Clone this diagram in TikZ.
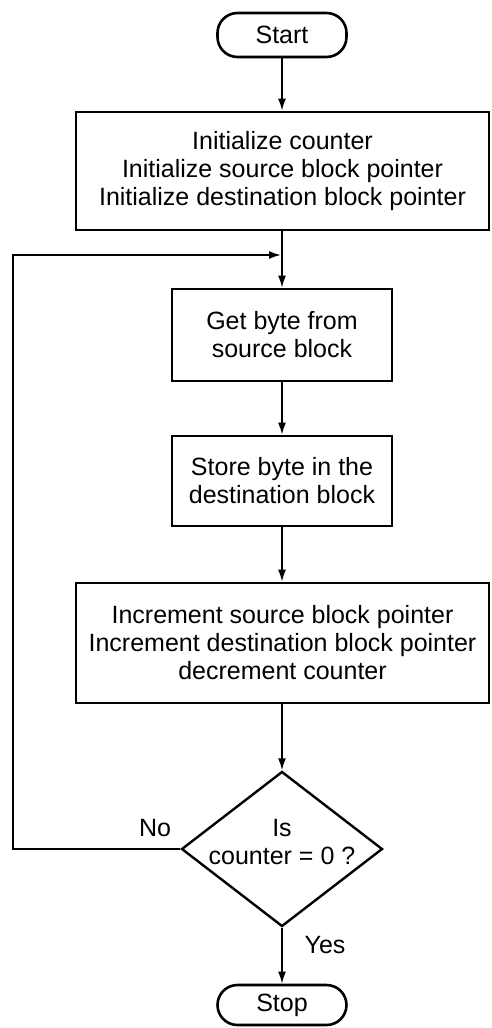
\documentclass[tikz,border=0pt]{standalone}
\usepackage{fontspec}
\setmainfont{Liberation Sans}
\usetikzlibrary{arrows.meta,shapes.geometric}
\tikzset{
  every node/.style={font=\fontsize{25}{28}\selectfont},
  procbox/.style={draw, line width=2.6pt, rectangle, align=center, inner sep=0pt},
  termbox/.style={draw, line width=2.6pt, rectangle, rounded corners=20pt, inner sep=0pt, minimum width=129pt},
  decbox/.style={draw, line width=2.4pt, diamond, inner sep=0pt, minimum width=201pt, minimum height=155pt},
  flow/.style={line width=1.8pt, -{Latex[length=12pt,width=8pt]}},
  plain/.style={line width=1.8pt},
  lbl/.style={inner sep=0pt}
}
\begin{document}
\begin{tikzpicture}[x=1pt,y=-1pt]
\useasboundingbox (0,0) rectangle (492,1028);
\fill[white] (0,0) rectangle (492,1028);
\node[termbox, minimum height=44pt] (start) at (282,35) {Start};
\node[procbox, minimum width=413pt, minimum height=118pt] (init) at (282.5,171)
  {Initialize counter\\Initialize source block pointer\\Initialize destination block pointer};
\node[procbox, minimum width=220pt, minimum height=92pt] (get) at (282,335)
  {Get byte from\\source block};
\node[procbox, minimum width=220pt, minimum height=90pt] (store) at (282,481)
  {Store byte in the\\destination block};
\node[procbox, minimum width=413pt, minimum height=120pt] (incr) at (282.5,643)
  {Increment source block pointer\\Increment destination block pointer\\decrement counter};
\node[decbox] (dec) at (282,849) {};
\node[lbl, align=center] (dectext) at (282,842) {Is\\counter = 0 ?};
\node[termbox, minimum height=40pt] (stop) at (282,1005) {Stop};
\node[lbl] (no) at (155,828) {No};
\node[lbl] (yes) at (325,945) {Yes};
\coordinate (j) at (282,255);
\coordinate (c1) at (13,849);
\draw[flow] (start.south) -- (start.south |- init.north);
\draw[flow] (init.south -| get.north) -- (get.north);
\draw[flow] (get.south) -- (store.north);
\draw[flow] (store.south) -- (store.south |- incr.north);
\draw[flow] (incr.south -| dec.north) -- (dec.north);
\draw[flow] (dec.south) -- (stop.north);
\draw[flow, shorten >=1pt] (dec.west) -- (c1) |- (j);
\end{tikzpicture}
\end{document}
